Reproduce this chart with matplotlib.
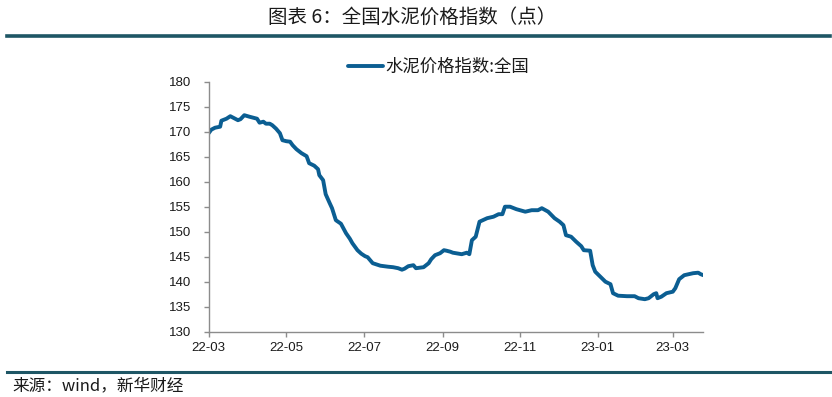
# Used for plot functions
import matplotlib
matplotlib.use("Agg")
import matplotlib.pyplot as plt
import matplotlib.dates as mdates
from matplotlib.lines import Line2D

# Used for array manipulation
import numpy as np
import pandas as pd

# ---- data ----
dates = [
    "2022-03-01", "2022-03-03", "2022-03-06", "2022-03-10", "2022-03-11",
    "2022-03-15", "2022-03-18", "2022-03-21", "2022-03-24", "2022-03-26",
    "2022-03-29", "2022-04-02", "2022-04-05", "2022-04-08", "2022-04-10",
    "2022-04-13", "2022-04-15", "2022-04-18", "2022-04-20", "2022-04-23",
    "2022-04-26", "2022-04-28", "2022-05-01", "2022-05-04", "2022-05-06",
    "2022-05-09", "2022-05-13", "2022-05-17", "2022-05-19", "2022-05-23",
    "2022-05-26", "2022-05-27", "2022-05-30", "2022-06-01", "2022-06-04",
    "2022-06-06", "2022-06-09", "2022-06-13", "2022-06-17", "2022-06-20",
    "2022-06-22", "2022-06-26", "2022-06-29", "2022-07-02", "2022-07-04",
    "2022-07-08", "2022-07-14", "2022-07-20", "2022-07-24", "2022-07-28",
    "2022-07-31", "2022-08-02", "2022-08-05", "2022-08-09", "2022-08-11",
    "2022-08-17", "2022-08-21", "2022-08-23", "2022-08-26", "2022-08-30",
    "2022-09-02", "2022-09-04", "2022-09-07", "2022-09-09", "2022-09-16",
    "2022-09-20", "2022-09-22", "2022-09-24", "2022-09-27", "2022-09-30",
    "2022-10-06", "2022-10-11", "2022-10-15", "2022-10-18", "2022-10-20",
    "2022-10-24", "2022-10-29", "2022-11-05", "2022-11-10", "2022-11-15",
    "2022-11-18", "2022-11-23", "2022-11-28", "2022-12-02", "2022-12-05",
    "2022-12-07", "2022-12-11", "2022-12-15", "2022-12-19", "2022-12-21",
    "2022-12-26", "2022-12-28", "2022-12-30", "2023-01-03", "2023-01-07",
    "2023-01-11", "2023-01-13", "2023-01-17", "2023-01-24", "2023-01-30",
    "2023-02-02", "2023-02-07", "2023-02-10", "2023-02-14", "2023-02-16",
    "2023-02-17", "2023-02-20", "2023-02-24", "2023-03-01", "2023-03-03",
    "2023-03-06", "2023-03-10", "2023-03-17", "2023-03-21", "2023-03-23",
    "2023-03-25",
]
cement_index = [
    169.7, 170.4, 170.8, 171.0, 172.2,
    172.6, 173.1, 172.7, 172.3, 172.5,
    173.3, 173.0, 172.8, 172.6, 171.8,
    172.0, 171.6, 171.6, 171.3, 170.6,
    169.7, 168.3, 168.1, 168.0, 167.3,
    166.5, 165.7, 165.1, 163.7, 163.2,
    162.5, 161.3, 160.3, 157.5, 155.8,
    154.7, 152.3, 151.6, 149.7, 148.6,
    147.7, 146.3, 145.6, 145.1, 144.9,
    143.7, 143.2, 143.0, 142.9, 142.7,
    142.4, 142.6, 143.1, 143.3, 142.7,
    142.9, 143.7, 144.5, 145.3, 145.7,
    146.3, 146.2, 146.0, 145.8, 145.5,
    145.8, 145.5, 148.3, 149.0, 152.0,
    152.7, 153.0, 153.5, 153.5, 155.0,
    155.0, 154.5, 154.0, 154.3, 154.3,
    154.7, 154.0, 152.7, 152.0, 151.3,
    149.3, 149.0, 148.0, 147.1, 146.3,
    146.2, 143.3, 142.0, 141.0, 140.0,
    139.5, 137.7, 137.2, 137.1, 137.1,
    136.7, 136.5, 136.7, 137.5, 137.7,
    136.7, 137.0, 137.7, 138.0, 138.7,
    140.5, 141.3, 141.7, 141.8, 141.5,
    141.3,
]
x_ticks = ["2022-03-01", "2022-05-01", "2022-07-01", "2022-09-01",
           "2022-11-01", "2023-01-01", "2023-03-01"]
y_ticks = [130, 135, 140, 145, 150, 155, 160, 165, 170, 175, 180]

title_text = "图表 6：全国水泥价格指数（点）"
legend_text = "水泥价格指数:全国"
source_text = "来源：wind，新华财经"

cjk = ["Noto Sans CJK SC", "DejaVu Sans"]
line_color = "#0B5E92"
rule_color = "#1E5665"
W, H = 832, 397

fig = plt.figure(figsize=(W / 100, H / 100), dpi=100)
ax = fig.add_axes([208.7 / W, 1 - 331.7 / H, (703.3 - 208.7) / W, 250 / H])

x = pd.to_datetime(dates)
ax.plot(x, cement_index, color=line_color, lw=2.8, label=legend_text,
        solid_joinstyle="round", solid_capstyle="round")

ax.set_xlim(pd.Timestamp("2022-03-01"), pd.Timestamp("2023-03-25"))
ax.set_ylim(130, 180)
ax.set_yticks(y_ticks)
ax.set_xticks(pd.to_datetime(x_ticks))
ax.xaxis.set_major_formatter(mdates.DateFormatter("%y-%m"))

for side in ("top", "right"):
    ax.spines[side].set_visible(False)
for side in ("left", "bottom"):
    ax.spines[side].set_color("#8c8c8c")
    ax.spines[side].set_linewidth(1.0)
ax.tick_params(axis="both", direction="out", length=3.5, width=1.0,
               color="#8c8c8c", labelcolor="#1a1a1a", labelsize=9.5)
ax.tick_params(axis="y", pad=9)
ax.tick_params(axis="x", pad=4)
for lab in ax.get_xticklabels() + ax.get_yticklabels():
    lab.set_fontfamily("Liberation Sans")

leg = ax.legend(loc="center", bbox_to_anchor=(439 / W, 1 - 67 / H),
                bbox_transform=fig.transFigure, frameon=False,
                handlelength=2.0, handletextpad=0.15,
                prop={"family": cjk, "size": 12.5})
for t in leg.get_texts():
    t.set_color("#1a1a1a")

# title, rules and source
fig.text(412.5 / W, 1 - 17 / H, title_text, ha="center", va="center",
         fontsize=14, family=cjk, color="#1a1a1a", fontweight="medium")
fig.add_artist(Line2D([7 / W, 830 / W], [1 - 36 / H] * 2,
                      color=rule_color, lw=2.6))
fig.add_artist(Line2D([7 / W, 830 / W], [1 - 371.5 / H] * 2,
                      color=rule_color, lw=2.2))
fig.text(12 / W, 1 - 386 / H, source_text, ha="left", va="center",
         fontsize=12, family=cjk, color="#1a1a1a")

fig.savefig("out.png", dpi=100)
